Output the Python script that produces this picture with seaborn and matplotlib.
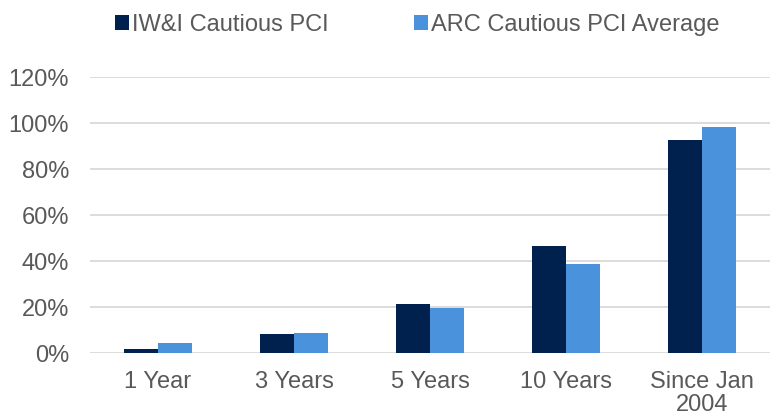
import matplotlib
matplotlib.use("Agg")
import matplotlib.pyplot as plt
import seaborn as sns
import pandas as pd
from matplotlib.patches import Patch
from matplotlib.ticker import FuncFormatter

categories = ["1 Year", "3 Years", "5 Years", "10 Years", "Since Jan\n2004"]
series_names = ["IW&I Cautious PCI", "ARC Cautious PCI Average"]
iwi_values = [1.8, 8.1, 21.3, 46.5, 92.7]
arc_values = [4.3, 8.7, 19.4, 38.8, 98.1]
y_ticks = [0, 20, 40, 60, 80, 100, 120]
colors = ["#00214D", "#4A92DC"]

df = pd.DataFrame({
    "Period": categories * 2,
    "Series": [series_names[0]] * len(categories) + [series_names[1]] * len(categories),
    "Value": iwi_values + arc_values,
})

sns.set_theme(style="white")
plt.rcParams["font.family"] = ["Liberation Sans", "DejaVu Sans"]
text_color = "#595959"
fs = 17

fig = plt.figure(figsize=(7.71, 4.16), dpi=100)
ax = fig.add_axes([90 / 771, (416 - 353) / 416, 680 / 771, (353 - 77) / 416])

sns.barplot(data=df, x="Period", y="Value", hue="Series", palette=colors,
            width=0.5, ax=ax, legend=False, saturation=1, edgecolor="none")

ax.set_ylim(0, 120)
ax.set_yticks(y_ticks)
ax.yaxis.set_major_formatter(FuncFormatter(lambda v, p: f"{int(v)}%"))
ax.set_xlim(-0.5, len(categories) - 0.5)
ax.grid(axis="y", color="#D9D9D9", linewidth=1.3)
ax.set_axisbelow(True)
for s in ax.spines.values():
    s.set_visible(False)
ax.set_xlabel("")
ax.set_ylabel("")
ax.tick_params(axis="y", length=0, pad=15, labelsize=fs, labelcolor=text_color)
ax.tick_params(axis="x", length=0, pad=13, labelsize=fs, labelcolor=text_color)
for lbl in ax.get_xticklabels():
    lbl.set_linespacing(1.05)

handles = [Patch(facecolor=c, edgecolor="none") for c in colors]
leg = fig.legend(handles, series_names, loc="center", bbox_to_anchor=(417.5 / 771, 1 - 25 / 416),
                 ncol=2, frameon=False, fontsize=fs, handlelength=0.6, handleheight=0.6,
                 handletextpad=0.13, columnspacing=3.6, borderpad=0, borderaxespad=0)
for t in leg.get_texts():
    t.set_color(text_color)

fig.savefig("out.png", dpi=100)
